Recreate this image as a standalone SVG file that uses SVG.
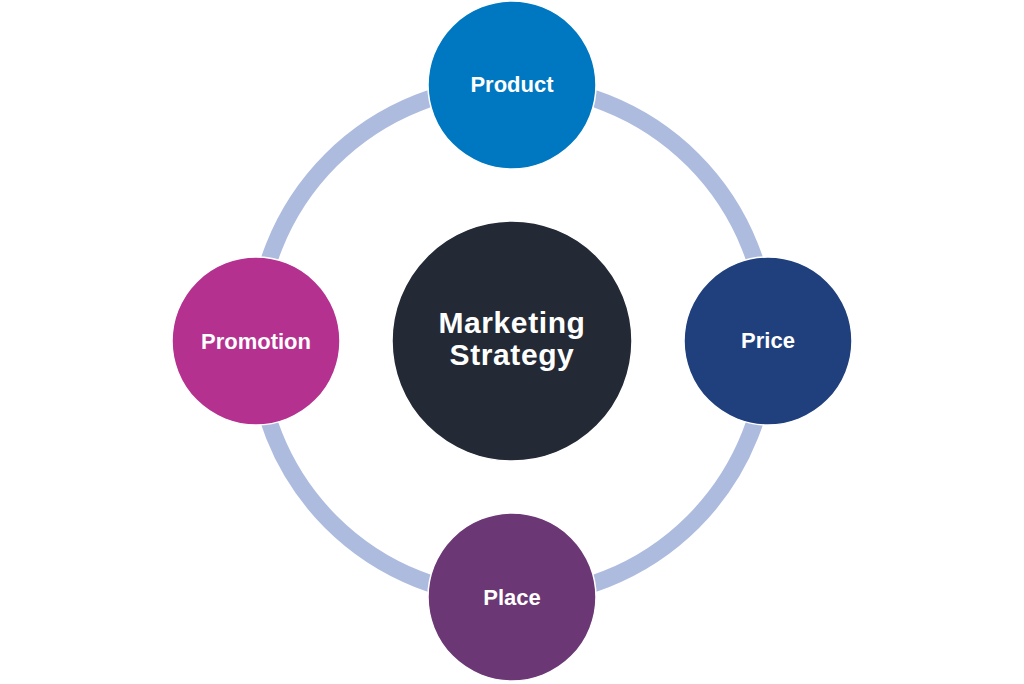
<svg xmlns="http://www.w3.org/2000/svg" width="1024" height="684" viewBox="0 0 1024 684">
  <style>
    .node { stroke: #ffffff; stroke-width: 1.5; }
    .lbl { font-family: "Liberation Sans", Arial, sans-serif; font-weight: bold; fill: #ffffff; text-anchor: middle; }
    .small { font-size: 22px; }
    .big { font-size: 30px; letter-spacing: 0.6px; }
  </style>
  <rect width="1024" height="684" fill="#ffffff"/>
  <g id="connectors">
    <circle cx="512" cy="341" r="256" fill="none" stroke="#adbbdf" stroke-width="17"/>
  </g>
  <g id="center">
    <circle class="node" cx="512" cy="341" r="120" fill="#232a36"/>
    <text class="lbl big" x="512" y="333">Marketing</text>
    <text class="lbl big" x="512" y="365">Strategy</text>
  </g>
  <g id="product">
    <circle class="node" cx="512" cy="85" r="84" fill="#0077c1"/>
    <text class="lbl small" x="512" y="92">Product</text>
  </g>
  <g id="price">
    <circle class="node" cx="768" cy="341" r="84" fill="#1f3f7d"/>
    <text class="lbl small" x="768" y="348">Price</text>
  </g>
  <g id="place">
    <circle class="node" cx="512" cy="597" r="84" fill="#6b3775"/>
    <text class="lbl small" x="512" y="605">Place</text>
  </g>
  <g id="promotion">
    <circle class="node" cx="256" cy="341" r="84" fill="#b53190"/>
    <text class="lbl small" x="256" y="349">Promotion</text>
  </g>
</svg>
